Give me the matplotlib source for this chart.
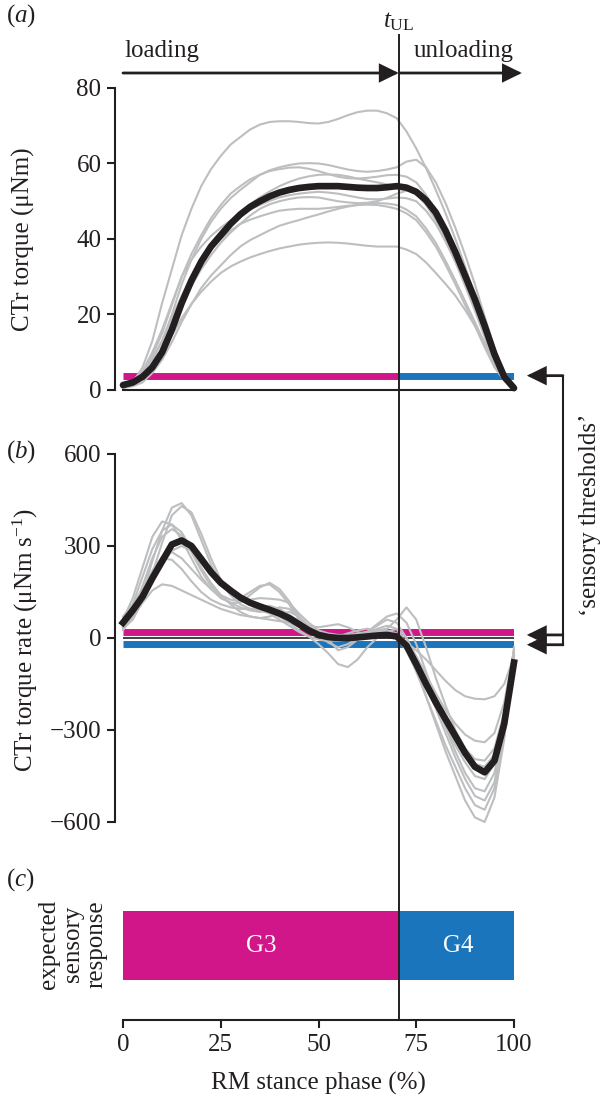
import matplotlib
matplotlib.use('Agg')
import matplotlib.pyplot as plt
import matplotlib.transforms as mtrans
from matplotlib.patches import FancyArrowPatch
from matplotlib.lines import Line2D

plt.rcParams['font.family'] = ['Liberation Serif', 'DejaVu Serif']
plt.rcParams['mathtext.fontset'] = 'custom'
plt.rcParams['mathtext.rm'] = 'Liberation Serif'
plt.rcParams['mathtext.it'] = 'Liberation Serif:italic'
plt.rcParams['mathtext.bf'] = 'Liberation Serif:bold'

# ---------------- data ----------------
t_ul = 70.5                      # unloading onset (% stance)
torque_threshold = 3.8           # uNm
rate_threshold_pos = 20          # uNm/s
rate_threshold_neg = -20

phase = [0, 2.5, 5, 7.5, 10, 12.5, 15, 17.5, 20, 22.5, 25, 27.5, 30, 32.5, 35, 37.5, 40,
         42.5, 45, 47.5, 50, 52.5, 55, 57.5, 60, 62.5, 65, 67.5, 70, 72.5, 75, 77.5, 80,
         82.5, 85, 87.5, 90, 92.5, 95, 97.5, 100]

# panel (a): individual torque traces (uNm)
torque_1 = [0.5, 2, 6, 13, 23, 32, 41, 48, 54, 58.5, 62, 65, 67, 69, 70.3, 71, 71.2, 71.2, 71,
            70.7, 70.6, 71, 71.8, 72.8, 73.6, 74, 74, 73.3, 72, 68.5, 64, 58.8, 53, 46.8, 40,
            32.7, 25, 17, 9, 3.5, 1]
torque_2 = [1, 2, 4, 8, 13, 20, 28, 34.5, 40, 44.5, 48, 50.8, 53, 55, 57, 58.2, 59, 59.6, 60,
            60.1, 60, 59.6, 59, 58.4, 58, 57.8, 58, 58.4, 59, 60.5, 61, 59, 55, 49.5, 43, 35.8,
            28, 19.5, 11, 4.5, 1]
torque_3 = [1, 2, 4, 9, 15, 22.5, 30, 36, 41, 45.5, 49, 52, 54, 55.8, 57, 58, 58.5, 58.9, 59,
            58.6, 58, 57.2, 56.5, 56.1, 56, 56.2, 56.5, 56.9, 57, 56.5, 55, 51.7, 47, 41.2, 35,
            28.5, 22, 15, 8, 3, 1]
torque_4 = [0.5, 1.5, 3, 6.5, 11, 17.5, 24, 30, 35, 38.8, 42, 44.7, 47, 49.2, 51, 52.6, 54,
            55.1, 56, 56.6, 57, 57.1, 57, 56.6, 56, 55.5, 55, 54.5, 54, 53.2, 52, 49, 45, 39.8,
            34, 27.6, 21, 14, 7, 2.5, 0.5]
torque_5 = [1, 2.5, 5, 10, 16, 23, 30, 34.5, 38, 40.8, 43, 44.9, 46.5, 47.8, 49, 50.1, 51, 51.6,
            52, 52.3, 52.5, 52.3, 52, 51.5, 51, 50.6, 50.5, 50.7, 51, 50.8, 50, 47.5, 44, 39.3,
            34, 28, 22, 15, 8, 3, 1]
torque_6 = [1, 2, 4, 8, 13, 19, 25, 30, 34, 37.2, 40, 42.2, 44, 45.1, 46, 46.8, 47.5, 47.8, 48,
            48, 48, 48.2, 48.5, 48.8, 49, 49.3, 49.5, 49.4, 49, 47.8, 46, 42.8, 39, 34.2, 29,
            23.5, 18, 12.3, 7, 3, 1]
torque_7 = [0.5, 1, 2, 4.5, 8, 12.7, 18, 22.7, 27, 30.3, 33, 35.7, 38, 39.7, 41, 42.3, 43.5,
            44.3, 45, 45.8, 46.5, 47.3, 48, 48.6, 49, 49.1, 49, 48.6, 48, 46.8, 45, 41.8, 38,
            33.2, 28, 22.5, 17, 11.3, 6, 2.5, 0.5]
torque_8 = [1, 1.8, 3, 6, 10, 16, 22, 27.5, 32, 35.7, 39, 41.7, 44, 46.2, 48, 49.2, 50, 50.6,
            51, 51.1, 51, 50.5, 50, 49.7, 49.5, 49.6, 50, 50.9, 52, 52.8, 53, 51.2, 48, 43, 37,
            30.5, 24, 16.5, 9, 3.5, 1]
torque_9 = [0.5, 1.5, 3, 6, 10, 14.5, 19, 22.8, 26, 28.7, 31, 32.7, 34, 35.1, 36, 36.8, 37.5,
            38, 38.5, 38.8, 39, 39.1, 39, 38.8, 38.5, 38.2, 38, 38, 38, 37.2, 36, 33.8, 31,
            28.1, 25, 21.2, 17, 12.5, 8, 4, 1]

# panel (a): mean torque
torque_mean = [1.3, 2, 3.5, 6, 10, 16, 23, 29, 34, 38, 41, 44, 46.5, 48.5, 50, 51.3, 52.3, 53,
               53.5, 53.8, 54, 54, 54, 53.8, 53.6, 53.5, 53.5, 53.7, 54, 53.6, 52.5, 50.3, 47,
               42.2, 36.5, 30.3, 24, 17, 9.5, 3.5, 0.5]

# panel (b): individual torque-rate traces (uNm/s)
rate_1 = [40, 80, 150, 250, 350, 425, 440, 400, 320, 240, 180, 140, 110, 95, 90, 80, 60, 40, 20,
          5, -5, -10, -5, 0, 5, 15, 30, 40, 30, -20, -100, -190, -280, -370, -450, -530, -585,
          -600, -520, -330, -60]
rate_2 = [30, 60, 120, 210, 310, 400, 430, 410, 340, 260, 190, 150, 130, 150, 170, 175, 150,
          110, 60, 25, 5, -5, 0, 5, 10, 20, 25, 20, 0, -40, -110, -190, -270, -350, -420, -490,
          -545, -560, -490, -320, -50]
rate_3 = [60, 130, 230, 330, 380, 370, 320, 260, 200, 160, 130, 115, 115, 140, 165, 180, 160,
          120, 70, 30, 5, -5, -10, -5, 5, 20, 40, 60, 50, 0, -70, -150, -230, -310, -390, -460,
          -515, -530, -470, -310, -40]
rate_4 = [50, 110, 200, 290, 350, 370, 345, 290, 230, 180, 140, 110, 85, 70, 65, 70, 80, 85, 70,
          40, 10, -15, -30, -20, 0, 20, 45, 70, 80, 50, -20, -110, -200, -290, -370, -440, -490,
          -500, -440, -290, -30]
rate_5 = [40, 90, 170, 260, 330, 355, 335, 280, 220, 170, 140, 125, 120, 125, 130, 128, 125, 115,
          80, 50, 25, -5, -40, -30, -5, 10, 20, 25, 15, -20, -80, -150, -220, -290, -350, -405,
          -450, -460, -410, -280, -70]
rate_6 = [35, 70, 120, 180, 240, 285, 300, 285, 250, 210, 175, 150, 130, 115, 100, 85, 70, 50,
          25, 5, -20, -50, -85, -95, -70, -30, 0, 15, 10, -15, -60, -120, -190, -260, -320, -370,
          -410, -420, -380, -260, -60]
rate_7 = [70, 110, 160, 220, 265, 280, 260, 225, 190, 160, 135, 115, 100, 90, 85, 90, 100, 95,
          70, 35, 10, 0, 5, 15, 25, 30, 25, 30, 60, 100, 60, -30, -130, -220, -300, -360, -395,
          -400, -360, -240, -40]
rate_8 = [25, 70, 140, 210, 260, 255, 225, 185, 150, 125, 110, 100, 95, 95, 100, 105, 95, 75,
          55, 40, 35, 40, 45, 35, 20, 10, 10, 20, 30, 0, -60, -120, -180, -235, -280, -315, -335,
          -340, -310, -210, -40]
rate_9 = [35, 70, 115, 155, 175, 170, 155, 140, 125, 110, 95, 85, 75, 70, 65, 60, 55, 50, 45,
          35, 25, 15, 10, 10, 15, 20, 25, 20, 5, -15, -40, -70, -105, -140, -170, -190, -198,
          -200, -190, -150, -60]

# panel (b): mean torque rate
rate_mean = [50, 90, 135, 195, 250, 305, 318, 300, 258, 215, 180, 155, 132, 115, 103, 92, 80, 65,
             45, 25, 10, 3, 0, 0, 2, 5, 8, 10, 5, -25, -85, -150, -210, -265, -320, -375, -420,
             -438, -400, -280, -80]

# panel (c): expected sensory response
response_labels = ['G3', 'G4']
response_start = [0, t_ul]
response_end = [t_ul, 101]

torque_traces = [torque_1, torque_2, torque_3, torque_4, torque_5, torque_6, torque_7, torque_8, torque_9]
rate_traces = [rate_1, rate_2, rate_3, rate_4, rate_5, rate_6, rate_7, rate_8, rate_9]

# ---------------- style ----------------
ink = '#231F20'
grey = '#BDBEC0'
magenta = '#D1168A'
blue = '#1A75BC'
FS = 18

W, H = 602, 1097
fig = plt.figure(figsize=(W / 100, H / 100), dpi=100)


def fy(py):
    return 1 - py / H


left = 123 / W
width = 391 / W
ax_a = fig.add_axes([left, fy(390), width, (390 - 88) / H])
ax_b = fig.add_axes([left, fy(822), width, (822 - 454) / H])
ax_c = fig.add_axes([left, fy(1020), width, (1020 - 871) / H])

offset_pt = 8 * 72 / 100


def style_axis(ax):
    for s in ['top', 'right']:
        ax.spines[s].set_visible(False)
    ax.spines['left'].set_position(('outward', offset_pt))
    for s in ax.spines.values():
        s.set_linewidth(1.5)
        s.set_color(ink)
    ax.tick_params(axis='both', direction='out', length=5.8, width=1.5, labelsize=FS,
                   pad=4, colors=ink)
    ax.set_xlim(0, 100)


# panel (a)
style_axis(ax_a)
ax_a.set_ylim(0, 80)
ax_a.set_yticks([0, 20, 40, 60, 80])
ax_a.set_xticks([])
ax_a.spines['bottom'].set_bounds(0, 100)
ax_a.spines['left'].set_bounds(0, 80)
ax_a.plot([0, t_ul], [torque_threshold] * 2, color=magenta, lw=5, solid_capstyle='butt', zorder=1)
ax_a.plot([t_ul, 100], [torque_threshold] * 2, color=blue, lw=5, solid_capstyle='butt', zorder=1)
for tr in torque_traces:
    ax_a.plot(phase, tr, color=grey, lw=1.5, zorder=2, clip_on=False)
ax_a.plot(phase, torque_mean, color=ink, lw=4.8, zorder=3, clip_on=False,
          solid_capstyle='round')

# panel (b)
style_axis(ax_b)
ax_b.spines['bottom'].set_visible(False)
ax_b.set_ylim(-600, 600)
ax_b.set_yticks([-600, -300, 0, 300, 600])
ax_b.set_xticks([])
ax_b.plot([0, 100], [rate_threshold_pos] * 2, color=magenta, lw=5, solid_capstyle='butt', zorder=1)
ax_b.plot([0, 100], [rate_threshold_neg] * 2, color=blue, lw=5, solid_capstyle='butt', zorder=1)
ax_b.plot([0, 100], [0, 0], color=ink, lw=1.2, zorder=1)
for tr in rate_traces:
    ax_b.plot(phase, tr, color=grey, lw=1.5, zorder=2, clip_on=False)
ax_b.plot(phase, rate_mean, color=ink, lw=4.8, zorder=3, clip_on=False)

# panel (c)
style_axis(ax_c)
ax_c.spines['left'].set_visible(False)
ax_c.spines['bottom'].set_bounds(0, 100)
ax_c.set_ylim(-1, 1)
ax_c.set_yticks([])
ax_c.set_xticks([0, 25, 50, 75, 100])
for lab, s, e, c in zip(response_labels, response_start, response_end, [magenta, blue]):
    ax_c.barh(0, e - s, left=s, height=0.926, color=c, edgecolor='none')
    ax_c.text((s + e) / 2, 0, lab, color='white', ha='center', va='center', fontsize=FS)

# vertical t_UL line across panels
blend = mtrans.blended_transform_factory(ax_a.transData, fig.transFigure)
fig.add_artist(Line2D([t_ul, t_ul], [fy(35), fy(1020)], transform=blend, color=ink, lw=1.4))
fig.text(t_ul, fy(22), r'$t_{\mathrm{UL}}$', transform=blend, ha='center', va='center',
         fontsize=FS, color=ink)


def arrow(p0, p1, transform):
    a = FancyArrowPatch(p0, p1, transform=transform,
                        arrowstyle='-|>,head_length=0.55,head_width=0.27', mutation_scale=20,
                        lw=2.0, color=ink, shrinkA=0, shrinkB=0, joinstyle='miter')
    fig.add_artist(a)


# loading / unloading arrows
arrow((0, fy(73)), (t_ul, fy(73)), blend)
arrow((t_ul + 0.4, fy(73)), (102, fy(73)), blend)
fig.text(0.3, fy(57), 'loading', transform=blend, ha='left', va='baseline', fontsize=FS, color=ink)
fig.text(74.3, fy(57), 'unloading', transform=blend, ha='left', va='baseline', fontsize=FS, color=ink)

# sensory threshold bracket
to_fig = fig.transFigure.inverted()


def fig_pt(ax, x, y):
    return to_fig.transform(ax.transData.transform((x, y)))


x_v = 112.5
x_tip = 103.3
pa = fig_pt(ax_a, x_v, torque_threshold)
pb1 = fig_pt(ax_b, x_v, 10)
pb2 = fig_pt(ax_b, x_v, -22)
ta = fig_pt(ax_a, x_tip, torque_threshold)
tb1 = fig_pt(ax_b, x_tip, 10)
tb2 = fig_pt(ax_b, x_tip, -22)
fig.add_artist(Line2D([pa[0], pb2[0]], [pa[1], pb2[1]], transform=fig.transFigure, color=ink, lw=1.5))
for p, t in [(pa, ta), (pb1, tb1), (pb2, tb2)]:
    arrow(tuple(p), tuple(t), fig.transFigure)
fig.text(590 / W, fy(515), '\u2018sensory thresholds\u2019', rotation=90, ha='center',
         va='center', fontsize=FS, color=ink)

# labels
fig.text(23 / W, fy(239), 'CTr torque (μNm)', rotation=90, ha='center', va='center',
         fontsize=FS, color=ink)
fig.text(25 / W, fy(640), r'CTr torque rate (μNm s$^{-1}$)', rotation=90, ha='center',
         va='center', fontsize=FS, color=ink)
fig.text(73 / W, fy(944), 'expected\nsensory\nresponse', rotation=90, ha='center',
         va='center', fontsize=FS, color=ink, linespacing=1.1, multialignment='center')
fig.text(318.5 / W, fy(1083), 'RM stance phase (%)', ha='center', va='center', fontsize=FS, color=ink)
fig.text(6 / W, fy(16), '($a$)', ha='left', va='center', fontsize=FS, color=ink)
fig.text(6 / W, fy(452), '($b$)', ha='left', va='center', fontsize=FS, color=ink)
fig.text(6 / W, fy(880), '($c$)', ha='left', va='center', fontsize=FS, color=ink)

fig.savefig('out.png', dpi=100)
